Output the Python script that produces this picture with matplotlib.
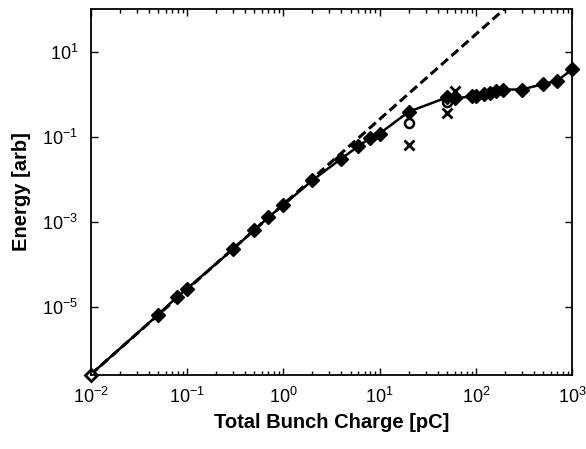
import matplotlib
matplotlib.use('Agg')
import matplotlib.pyplot as plt
from matplotlib.ticker import LogLocator, NullFormatter, FixedLocator

plt.rcParams['font.family'] = ['Liberation Sans', 'DejaVu Sans']
plt.rcParams['mathtext.fontset'] = 'custom'
plt.rcParams['mathtext.rm'] = 'Liberation Sans'
plt.rcParams['axes.unicode_minus'] = False

# simulated energy vs bunch charge (diamonds, solid)
charge = [0.01, 0.05, 0.078, 0.1, 0.3, 0.5, 0.7, 1.0, 2.0, 4.0, 6.0, 8.0, 10.0,
          20.0, 50.0, 60.0, 90.0, 100.0, 120.0, 140.0, 160.0, 190.0, 300.0, 500.0, 700.0, 1000.0]
energy = [2.6e-7, 6.6e-6, 1.7e-5, 2.7e-5, 2.3e-4, 6.5e-4, 1.3e-3, 2.5e-3, 9.5e-3, 0.031, 0.06, 0.095, 0.12,
          0.39, 0.85, 0.8, 0.9, 0.93, 1.0, 1.1, 1.2, 1.3, 1.3, 1.75, 2.1, 3.9]

# quadratic scaling reference (dashed)
ref_charge = [0.01, 200.0]
ref_energy = [2.6e-7, 104.0]

# extra cases
circ_charge = [20.0, 50.0]
circ_energy = [0.21, 0.65]
cross_charge = [20.0, 50.0, 60.0]
cross_energy = [0.065, 0.36, 1.2]

fig = plt.figure(figsize=(5.86, 4.49), dpi=100)
ax = fig.add_axes([0.1548, 0.1659, 0.8218, 0.8134])

ax.plot(ref_charge, ref_energy, linestyle='--', color='black', linewidth=2.2, dashes=(3, 1.5))
ax.plot(charge, energy, '-', color='black', linewidth=1.8)
ax.plot(charge[1:], energy[1:], 'D', color='black', markersize=7, linestyle='none', clip_on=False)
ax.plot(charge[:1], energy[:1], 'D', markerfacecolor='white', markeredgecolor='black',
        markeredgewidth=2, markersize=6, linestyle='none', clip_on=False)
ax.plot(circ_charge, circ_energy, 'o', markerfacecolor='none', markeredgecolor='black',
        markeredgewidth=1.8, markersize=6.5, linestyle='none')
ax.plot(cross_charge, cross_energy, 'x', color='black', markeredgewidth=2, markersize=7,
        linestyle='none')

ax.set_xscale('log')
ax.set_yscale('log')
ax.set_xlim(1e-2, 1e3)
ax.set_ylim(2.6e-7, 100)

ax.xaxis.set_major_locator(FixedLocator([1e-2, 1e-1, 1e0, 1e1, 1e2, 1e3]))
ax.xaxis.set_minor_locator(LogLocator(base=10, subs=range(2, 10), numticks=20))
ax.xaxis.set_minor_formatter(NullFormatter())
ax.yaxis.set_major_locator(FixedLocator([1e-5, 1e-3, 1e-1, 1e1]))
ax.yaxis.set_minor_locator(FixedLocator([]))
ax.set_xticklabels([r'$\mathregular{10^{%d}}$' % e for e in [-2, -1, 0, 1, 2, 3]])
ax.set_yticklabels([r'$\mathregular{10^{%d}}$' % e for e in [-5, -3, -1, 1]])

ax.tick_params(which='both', direction='in', top=True, right=True, labelsize=13, width=1)
ax.tick_params(which='major', length=5, pad=9)
ax.tick_params(which='minor', length=3)
for s in ax.spines.values():
    s.set_linewidth(1.3)

ax.set_xlabel('Total Bunch Charge [pC]', fontsize=14.5, fontweight='bold', labelpad=4)
ax.set_ylabel('Energy [arb]', fontsize=14.5, fontweight='bold', labelpad=8)

fig.savefig('out.png', dpi=100)
